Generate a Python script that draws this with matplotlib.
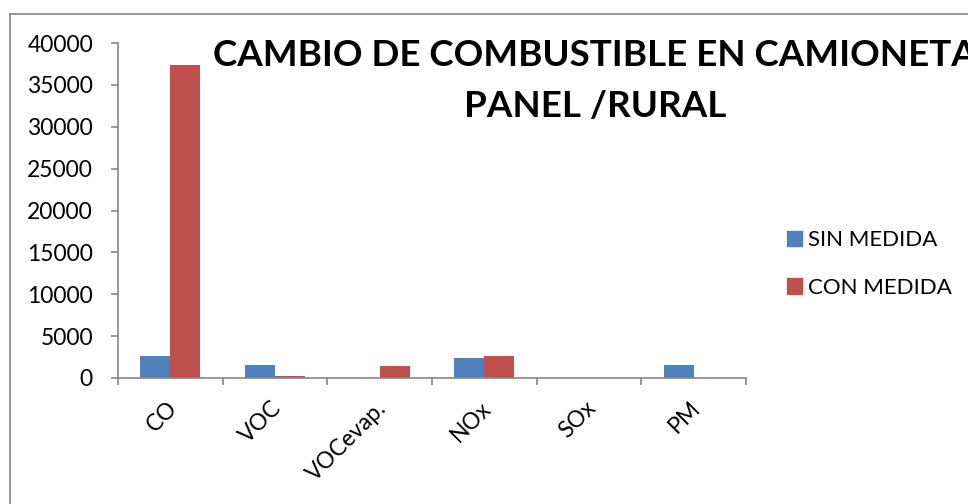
import matplotlib
matplotlib.use("Agg")
import matplotlib.pyplot as plt
from matplotlib.patches import Patch
from matplotlib.lines import Line2D
import numpy as np

categories = ["CO", "VOC", "VOCevap.", "NOx", "SOx", "PM"]
sin_medida = [2600, 1600, 0, 2430, 0, 1600]
con_medida = [37400, 200, 1430, 2600, 0, 0]
series_names = ["SIN MEDIDA", "CON MEDIDA"]
yticks = [0, 5000, 10000, 15000, 20000, 25000, 30000, 35000, 40000]
title = "CAMBIO DE COMBUSTIBLE EN CAMIONETA\nPANEL /RURAL"

BLUE = "#4F81BD"
RED = "#C0504D"
GRAY = "#868686"
FONT = ["Lato", "DejaVu Sans"]
plt.rcParams["font.family"] = FONT

W, H = 968, 504
fig = plt.figure(figsize=(W / 100, H / 100), dpi=100)
fig.patch.set_facecolor("white")

# chart border (top and left visible)
fig.add_artist(Line2D([10 / W, 1.0], [1 - 14 / H, 1 - 14 / H], color=GRAY, lw=1.2))
fig.add_artist(Line2D([10 / W, 10 / W], [0, 1 - 14 / H], color=GRAY, lw=1.2))

ax = fig.add_axes([118 / W, 1 - 378 / H, (746 - 118) / W, (378 - 43) / H])
x = np.arange(len(categories))
bw = 1 / 3.5
ax.bar(x - bw / 2, sin_medida, width=bw, color=BLUE, label=series_names[0])
ax.bar(x + bw / 2, con_medida, width=bw, color=RED, label=series_names[1])

ax.set_xlim(-0.5, len(categories) - 0.5)
ax.set_ylim(0, 40000)
ax.set_yticks(yticks)
ax.set_yticklabels([str(v) for v in yticks], fontsize=16.5)
ax.set_xticks(np.arange(-0.5, len(categories), 1.0))
ax.set_xticklabels([])
ax.set_xticks(x, minor=True)
ax.set_xticklabels(categories, minor=True, rotation=45, ha="right", va="top",
                   rotation_mode="anchor", fontsize=16.5)
ax.tick_params(axis="x", which="minor", length=0, pad=14)
ax.tick_params(axis="x", which="major", length=5, color=GRAY, width=1.2)
ax.tick_params(axis="y", length=5, color=GRAY, width=1.2, pad=13)
for lab in ax.get_xticklabels(minor=True):
    lab.set_transform(lab.get_transform() + matplotlib.transforms.ScaledTranslation(-4 / 100, 0, fig.dpi_scale_trans))
for s in ["top", "right"]:
    ax.spines[s].set_visible(False)
for s in ["left", "bottom"]:
    ax.spines[s].set_color(GRAY)
    ax.spines[s].set_linewidth(1.2)

fig.text(595 / W, 1 - 81 / H, title, ha="center", va="center", fontsize=26.5,
         fontweight="bold", linespacing=1.68)

handles = [Patch(color=BLUE), Patch(color=RED)]
fig.legend(handles, series_names, loc="center left", bbox_to_anchor=(767 / W, 1 - 264 / H),
           frameon=False, fontsize=16, handlelength=0.68, handleheight=0.68,
           handletextpad=0.25, labelspacing=1.25)

fig.savefig("out.png", dpi=100)
